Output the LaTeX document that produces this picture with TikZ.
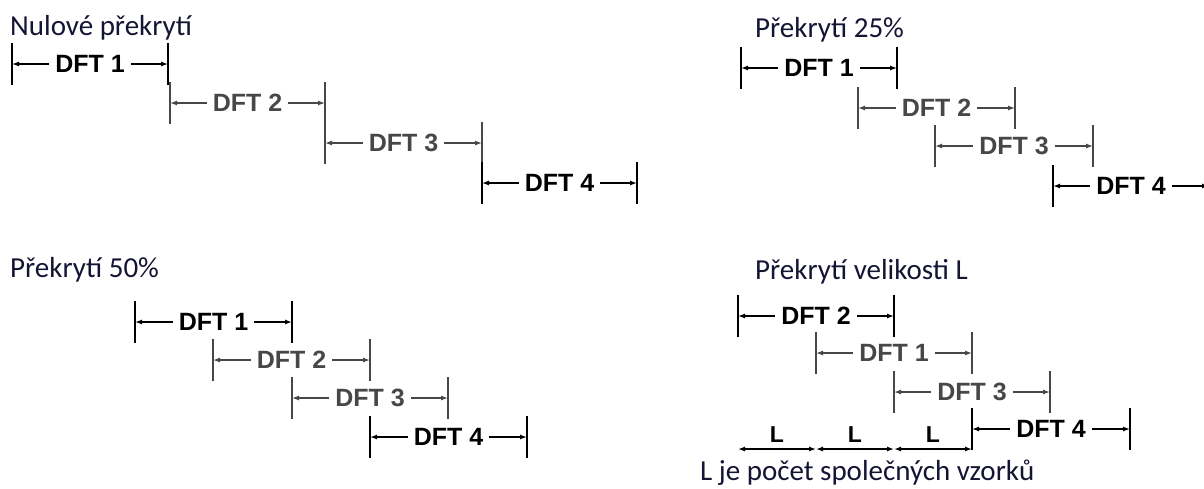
\documentclass[tikz,border=0pt]{standalone}
\usepackage{fontspec}
\setmainfont{Carlito}
\newfontfamily\dftfont{Liberation Sans}
\usetikzlibrary{arrows.meta}
\tikzset{
  dtick/.style={line width=1.6pt},
  dimline/.style={line width=1.3pt,{Latex[length=7pt,width=5pt]}-{Latex[length=7pt,width=5pt]}},
  lab/.style={font=\dftfont\bfseries\fontsize{25}{28}\selectfont, fill=white, inner xsep=6pt, inner ysep=4pt},
  ttl/.style={font=\fontsize{29}{32}\selectfont, text={rgb,1:red,0.08;green,0.08;blue,0.2}, anchor=base west, inner sep=0pt},
  llab/.style={font=\dftfont\bfseries\fontsize{23}{26}\selectfont, inner sep=0pt, anchor=base},
}
\newcommand\dftbar[6]{%
  \coordinate (#1l) at (#2,#4);
  \coordinate (#1r) at (#3,#4);
  \draw[dtick,draw=#6] (#2,#4-21) -- (#2,#4+21);
  \draw[dtick,draw=#6] (#3,#4-21) -- (#3,#4+21);
  \draw[dimline,draw=#6] (#1l) -- node[lab,text=#6] (#1t) {#5} (#1r);
}
\begin{document}
\begin{tikzpicture}[x=1pt,y=-1pt]
\useasboundingbox (0,0) rectangle (1204,488);
\clip (0,0) rectangle (1204,488);
\colorlet{crisp}{black}
\colorlet{noisy}{black!72}
% Panel 1
\node[ttl] (t1) at (10,35) {Nulové překrytí};
\dftbar{a1}{12}{168}{64}{DFT 1}{crisp}
\dftbar{a2}{170}{325}{103}{DFT 2}{noisy}
\dftbar{a3}{325}{482}{143}{DFT 3}{noisy}
\dftbar{a4}{482}{637}{183}{DFT 4}{crisp}
% Panel 2
\node[ttl] (t2) at (755,37) {Překrytí 25\%};
\dftbar{b1}{741}{897}{68}{DFT 1}{crisp}
\dftbar{b2}{858}{1015}{108}{DFT 2}{noisy}
\dftbar{b3}{935}{1093}{146}{DFT 3}{noisy}
\dftbar{b4}{1053}{1209}{186}{DFT 4}{crisp}
% Panel 3
\node[ttl] (t3) at (10,277) {Překrytí 50\%};
\dftbar{c1}{135}{292}{322}{DFT 1}{crisp}
\dftbar{c2}{213}{370}{360}{DFT 2}{noisy}
\dftbar{c3}{292}{448}{398}{DFT 3}{noisy}
\dftbar{c4}{370}{527}{437}{DFT 4}{crisp}
% Panel 4
\node[ttl] (t4) at (755,279) {Překrytí velikosti L};
\dftbar{d2}{738}{894}{316}{DFT 2}{crisp}
\dftbar{d1}{816}{972}{353}{DFT 1}{noisy}
\dftbar{d3}{894}{1050}{392}{DFT 3}{noisy}
\dftbar{d4}{972}{1130}{429}{DFT 4}{crisp}
\coordinate (l0) at (738,449);
\coordinate (l1) at (816,449);
\coordinate (l2) at (894,449);
\coordinate (l3) at (972,449);
\draw[dimline] (l0) -- (l1);
\draw[dimline] (l1) -- (l2);
\draw[dimline] (l2) -- (l3);
\node[llab] (L1) at (777,442) {L};
\node[llab] (L2) at (855,442) {L};
\node[llab] (L3) at (933,442) {L};
\node[ttl] (t5) at (700,480) {L je počet společných vzorků};
\end{tikzpicture}
\end{document}
